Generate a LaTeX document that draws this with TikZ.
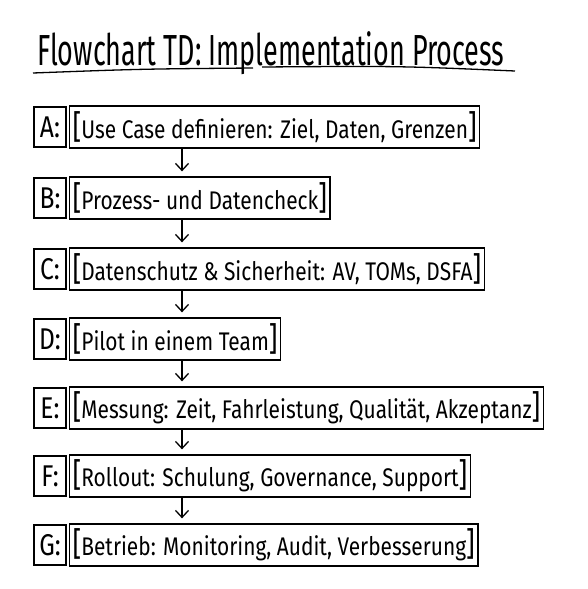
\documentclass[tikz,border=0pt]{standalone}
\usepackage{fontspec}
\setmainfont{Fira Sans}
\newfontfamily\titlefont[FakeStretch=0.62]{Fira Sans}
\newfontfamily\stepfont[FakeStretch=0.82]{Fira Sans}
\usetikzlibrary{arrows.meta}

\newcommand{\lbr}{{\fontsize{33}{33}\selectfont[}}
\newcommand{\rbr}{{\fontsize{33}{33}\selectfont]}}

\tikzset{
	letterbox/.style={draw, line width=1.3pt, minimum width=32pt, minimum height=40pt, inner sep=0pt, font=\stepfont\fontsize{30}{30}\selectfont},
	stepbox/.style={draw, line width=1.3pt, anchor=west, minimum height=42pt, inner xsep=3pt, inner ysep=0pt, font=\stepfont\fontsize{25.5}{26}\selectfont},
	flow/.style={-{Straight Barb[length=7pt,width=13pt]}, line width=1.3pt, shorten >=5pt}
}

\begin{document}
\begin{tikzpicture}[x=1pt, y=-1pt]

		\useasboundingbox (0,0) rectangle (588,589);

			\node[anchor=base west, inner sep=0pt, font=\titlefont\fontsize{43.5}{44}\selectfont] (title) at (37,65) {Flowchart TD: Implementation Process};

			\draw [line width=1.3pt] (33,73) .. controls (140,69) .. (253,68);
			\draw [line width=1.3pt] (262,67) .. controls (400,66) .. (515,71);

			\coordinate (fx) at (182,0);

			\node[letterbox] (la) at (50,127) {A:};
			\node[stepbox] (a) at (69,127) {\lbr Use Case definieren: Ziel, Daten, Grenzen\rbr};

			\node[letterbox] (lb) at (50,198) {B:};
			\node[stepbox] (b) at (69,198) {\lbr Prozess- und Datencheck\rbr};

			\node[letterbox] (lc) at (50,269) {C:};
			\node[stepbox] (c) at (69,269) {\lbr Datenschutz \& Sicherheit: AV, TOMs, DSFA\rbr};

			\node[letterbox] (ld) at (50,339) {D:};
			\node[stepbox] (d) at (69,339) {\lbr Pilot in einem Team\rbr};

			\node[letterbox] (le) at (50,408) {E:};
			\node[stepbox] (e) at (69,408) {\lbr Messung: Zeit, Fahrleistung, Qualität, Akzeptanz\rbr};

			\node[letterbox] (lf) at (50,476) {F:};
			\node[stepbox] (f) at (69,476) {\lbr Rollout: Schulung, Governance, Support\rbr};

			\node[letterbox] (lg) at (50,545) {G:};
			\node[stepbox] (g) at (69,545) {\lbr Betrieb: Monitoring, Audit, Verbesserung\rbr};

			\draw [flow] (a.south -| fx) -- (b.north -| fx);
			\draw [flow] (b.south -| fx) -- (c.north -| fx);
			\draw [flow] (c.south -| fx) -- (d.north -| fx);
			\draw [flow] (d.south -| fx) -- (e.north -| fx);
			\draw [flow] (e.south -| fx) -- (f.north -| fx);
			\draw [flow] (f.south -| fx) -- (g.north -| fx);

	\end{tikzpicture}
\end{document}
